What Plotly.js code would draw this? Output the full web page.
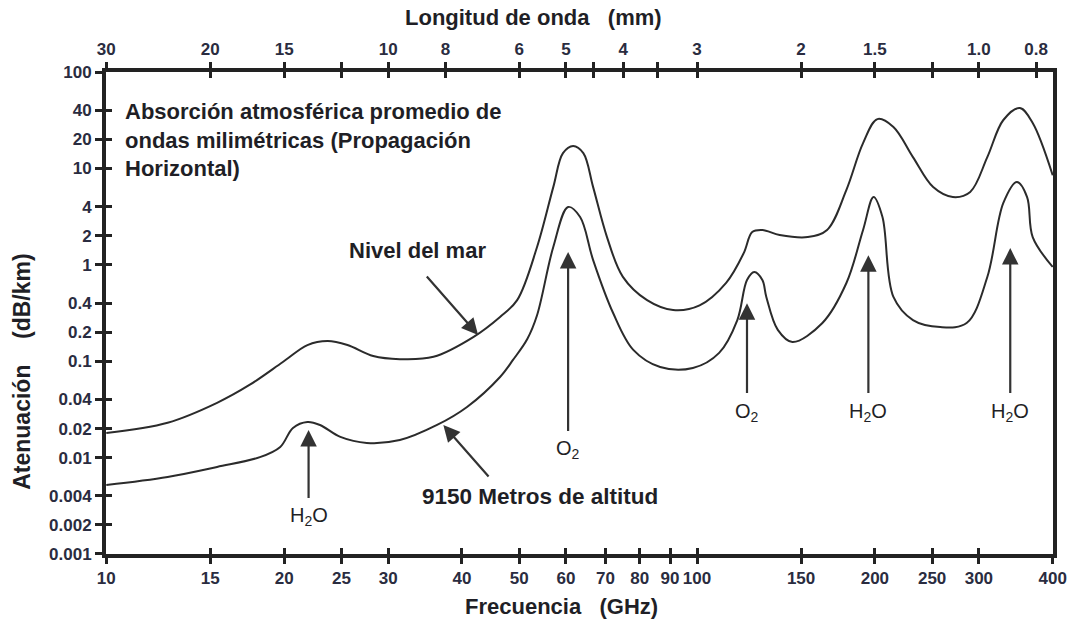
<!DOCTYPE html>
<html>
<head>
<meta charset="utf-8">
<script src="https://cdn.plot.ly/plotly-3.0.1.min.js"></script>
<style>html,body{margin:0;padding:0;background:#fff;}#chart{width:1072px;height:623px;}</style>
</head>
<body>
<div id="chart"></div>
<script>
// ---- Data ----
const freqSea = [10, 12.7, 15.4, 17.5, 19.9, 21.9, 23.7, 25.6, 28.3, 31.4, 35.8, 41.8, 46.4, 49.6, 53.6, 57.1, 59.3, 61.7, 64.2, 66.7, 70.4, 74.9, 82.3, 91.1, 101, 112, 120, 124, 129, 138, 154, 166, 179, 191, 202, 215, 232, 251, 271, 290, 310, 330, 352, 370, 400];
const attSea  = [0.018, 0.023, 0.037, 0.057, 0.098, 0.147, 0.162, 0.147, 0.113, 0.105, 0.111, 0.178, 0.288, 0.43, 1.53, 6.4, 14.4, 17.1, 14.4, 6.4, 1.94, 0.75, 0.43, 0.34, 0.38, 0.65, 1.33, 2.19, 2.3, 2.04, 1.94, 2.3, 6.0, 18.3, 32.5, 26.9, 13.1, 6.4, 5.05, 5.7, 13.1, 31.8, 42.3, 29.6, 8.5];

const freq9150 = [10, 12.7, 15.4, 18.2, 19.7, 20.7, 21.9, 23.0, 24.9, 27.6, 31.4, 36.3, 40.8, 46.4, 48.8, 51.6, 53.6, 57.1, 60.5, 63.4, 66.7, 72.1, 78, 86.6, 98.4, 109, 117, 121.5, 125, 129, 131, 137, 145, 163, 179, 191, 199, 206, 215, 232, 258, 286, 310, 330, 348, 362, 370, 400];
const att9150  = [0.0052, 0.0063, 0.008, 0.0101, 0.0129, 0.0203, 0.0234, 0.0218, 0.0164, 0.0142, 0.0152, 0.0218, 0.0335, 0.0686, 0.103, 0.17, 0.30, 1.53, 3.98, 3.13, 1.12, 0.316, 0.131, 0.087, 0.085, 0.122, 0.267, 0.695, 0.842, 0.695, 0.464, 0.211, 0.158, 0.249, 0.647, 2.3, 5.05, 3.13, 0.464, 0.267, 0.226, 0.249, 0.747, 4.38, 7.22, 5.05, 1.94, 0.95];

const freqTicks  = [10, 15, 20, 25, 30, 40, 50, 60, 70, 80, 90, 100, 150, 200, 250, 300, 400];
const freqLabels = ['10','15','20','25','30','40','50','60','70','80','90','100','150','200','250','300','400'];

const lambdaTicks  = [30, 20, 15, 10, 8, 6, 5, 4, 3, 2, 1.5, 1.0, 0.8];
const lambdaLabels = ['30','20','15','10','8','6','5','4','3','2','1.5','1.0','0.8'];
const lambdaMinor  = [12, 4.5, 3.5, 1.2];

const attTicks  = [0.001, 0.002, 0.004, 0.01, 0.02, 0.04, 0.1, 0.2, 0.4, 1, 2, 4, 10, 20, 40, 100];
const attLabels = ['0.001','0.002','0.004','0.01','0.02','0.04','0.1','0.2','0.4','1','2','4','10','20','40','100'];

const seriesNames = ['Nivel del mar', '9150 Metros de altitud'];

// ---- Drawing ----
const L = Math.log10;
const ink = '#1f1f26';
const tickInk = '#2a2c40';
const fam = 'Liberation Sans, Arial, sans-serif';
const lineStyle = {color: '#2b2b2b', width: 2, shape: 'spline', smoothing: 1};

// invisible helper traces so the overlay axes (wavelength scale, inner tick marks) are drawn
function helper(xa, ya) {
  return {x: freqSea, y: attSea, xaxis: xa, yaxis: ya, mode: 'lines', line: {width: 0}, opacity: 0, hoverinfo: 'skip', showlegend: false};
}

const traces = [
  {x: freqSea, y: attSea, name: seriesNames[0], mode: 'lines', line: lineStyle, hoverinfo: 'x+y+name'},
  {x: freq9150, y: att9150, name: seriesNames[1], mode: 'lines', line: lineStyle, hoverinfo: 'x+y+name'},
  helper('x2', 'y'), helper('x3', 'y'), helper('x4', 'y'), helper('x', 'y2')
];

const tickFont = {family: fam, size: 17, color: tickInk, weight: 'bold'};
const axisCommon = {
  showgrid: false, zeroline: false, showline: true, linewidth: 4, linecolor: '#222',
  ticks: 'outside', ticklen: 6, tickwidth: 3, tickcolor: '#222', tickfont: tickFont
};
const innerTicks = {
  showgrid: false, zeroline: false, showline: false, showticklabels: false,
  ticks: 'inside', ticklen: 6, tickwidth: 3, tickcolor: '#222', tickmode: 'array'
};

const xRange = [L(10) - 0.0005, L(400) + 0.0005];
const yRange = [-3.0005, 2.0005];
const lambdaAll = lambdaTicks.concat(lambdaMinor).map(l => 300 / l);
const arrowStyle = {showarrow: true, arrowhead: 2, arrowsize: 1.5, arrowwidth: 2.2, arrowcolor: '#333'};

function molecule(text, fHead, vHead, fLab, vLab) {
  return Object.assign({
    text: text, xref: 'x', yref: 'y', axref: 'x', ayref: 'y',
    x: L(fHead), y: L(vHead), ax: L(fLab), ay: L(vLab),
    startstandoff: 5, font: {family: fam, size: 20, color: ink}
  }, arrowStyle);
}

const titleFont = {family: fam, size: 22, color: ink, weight: 'bold'};

const layout = {
  width: 1072, height: 623,
  margin: {l: 106, r: 19, t: 72, b: 69, pad: 0},
  paper_bgcolor: '#fff', plot_bgcolor: '#fff',
  showlegend: false,
  font: {family: fam, color: ink},
  xaxis: Object.assign({}, axisCommon, {
    type: 'log', range: xRange,
    tickmode: 'array', tickvals: freqTicks, ticktext: freqLabels
  }),
  xaxis2: Object.assign({}, axisCommon, {
    type: 'log', range: xRange, overlaying: 'x', side: 'top', anchor: 'y',
    tickmode: 'array', tickvals: lambdaTicks.map(l => 300 / l), ticktext: lambdaLabels,
    minor: {tickmode: 'array', tickvals: lambdaMinor.map(l => 300 / l), ticks: 'outside', ticklen: 6, tickwidth: 3, tickcolor: '#222', showgrid: false}
  }),
  xaxis3: Object.assign({}, innerTicks, {type: 'log', range: xRange, overlaying: 'x', side: 'bottom', anchor: 'y', tickvals: freqTicks}),
  xaxis4: Object.assign({}, innerTicks, {type: 'log', range: xRange, overlaying: 'x', side: 'top', anchor: 'y', tickvals: lambdaAll}),
  yaxis: Object.assign({}, axisCommon, {
    type: 'log', range: yRange, mirror: true,
    tickmode: 'array', tickvals: attTicks, ticktext: attLabels, ticklen: 7
  }),
  yaxis2: Object.assign({}, innerTicks, {type: 'log', range: yRange, overlaying: 'y', side: 'left', anchor: 'x', tickvals: attTicks}),
  annotations: [
    {text: 'Longitud de onda\u00A0\u00A0\u00A0(mm)', xref: 'paper', yref: 'paper', x: (533 - 106) / 947, y: 1 + (72 - 18) / 482,
     showarrow: false, xanchor: 'center', yanchor: 'middle', font: titleFont},
    {text: 'Frecuencia\u00A0\u00A0\u00A0(GHz)', xref: 'paper', yref: 'paper', x: (561 - 106) / 947, y: -(606 - 554) / 482,
     showarrow: false, xanchor: 'center', yanchor: 'middle', font: titleFont},
    {text: 'Atenuación\u00A0\u00A0\u00A0\u00A0(dB/km)', xref: 'paper', yref: 'paper', x: -0.0887, y: 0.378,
     textangle: -90, showarrow: false, xanchor: 'center', yanchor: 'middle',
     font: {family: fam, size: 23, color: ink, weight: 'bold'}},
    {text: 'Absorción atmosférica promedio de<br>ondas milimétricas (Propagación<br>Horizontal)',
     xref: 'paper', yref: 'paper', x: 0.018, y: 0.948, xanchor: 'left', yanchor: 'top', align: 'left',
     showarrow: false, font: {family: fam, size: 22, color: ink, weight: 'bold'}},
    // series labels
    {text: seriesNames[0], xref: 'x', yref: 'y', x: L(33.6), y: L(1.42), showarrow: false,
     font: {family: fam, size: 22, color: ink, weight: 'bold'}},
    Object.assign({text: '', xref: 'x', yref: 'y', axref: 'x', ayref: 'y', x: L(42.6), y: L(0.187), ax: L(34.7), ay: L(0.784)}, arrowStyle),
    {text: seriesNames[1], xref: 'x', yref: 'y', x: L(54.3), y: L(0.0039), showarrow: false,
     font: {family: fam, size: 22.5, color: ink, weight: 'bold'}},
    Object.assign({text: '', xref: 'x', yref: 'y', axref: 'x', ayref: 'y', x: L(37.2), y: L(0.0218), ax: L(44.6), ay: L(0.00614)}, arrowStyle),
    // absorption lines
    molecule('H<sub>2</sub>O', 22, 0.0193, 22, 0.00242),
    molecule('O<sub>2</sub>', 60.5, 1.36, 60.5, 0.012),
    molecule('O<sub>2</sub>', 121.5, 0.40, 121.5, 0.0297),
    molecule('H<sub>2</sub>O', 195, 1.26, 195, 0.0297),
    molecule('H<sub>2</sub>O', 339, 1.49, 339, 0.0297)
  ]
};

Plotly.newPlot('chart', traces, layout, {displayModeBar: false, staticPlot: true});
</script>
</body>
</html>
